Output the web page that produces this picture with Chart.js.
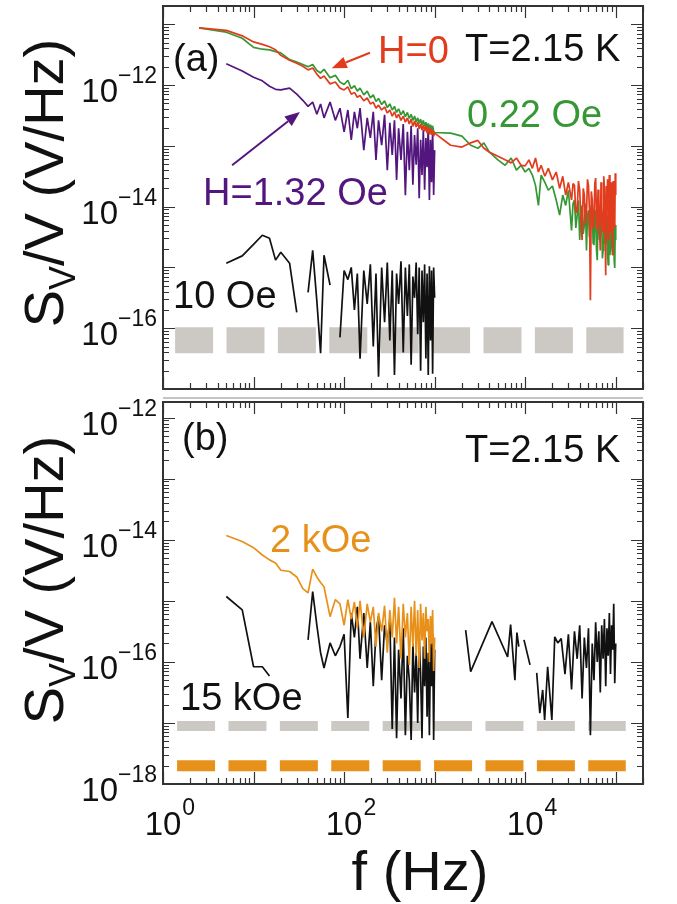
<!DOCTYPE html>
<html>
<head>
<meta charset="utf-8">
<script src="https://cdn.jsdelivr.net/npm/chart.js@4.4.1/dist/chart.umd.min.js"></script>
<style>
  html, body { margin: 0; padding: 0; background: #fff; }
  #wrap { position: relative; width: 677px; height: 904px; }
  canvas { position: absolute; left: 0; }
  #panelA { top: 0; }
  #panelB { top: 395px; }
</style>
</head>
<body>
<div id="wrap">
  <canvas id="panelA" width="677" height="395"></canvas>
  <canvas id="panelB" width="677" height="509"></canvas>
</div>
<script>
// frequencies (Hz) of the low band, up to 1 kHz
const lowF = [2.5, 5, 7.5, 10, 12.5, 15, 17.5, 20,
  25, 30, 35, 40, 45, 50, 55, 60,
  70, 80, 90, 100, 110, 120, 130, 140, 150,
  165, 180, 195, 210, 225, 240,
  260, 280, 300, 320, 340, 360, 380, 400,
  425, 450, 475, 500, 525, 550, 575, 600, 625, 650, 675, 700,
  725, 750, 775, 800, 825, 850, 875, 900, 925, 950, 975, 1000];
// frequencies (Hz) of the high band, above 1 kHz
const highF = [1500, 2000, 2500, 3000, 3500, 4000,
  5000, 6000, 7000, 8000, 9000, 10000, 11000, 12000, 13000, 14000, 15000,
  16500, 18000, 20000, 22000, 24000, 26000, 28000, 30000,
  32500, 33750, 35000, 36250, 37500, 38750, 40000, 41250, 42500, 43750,
  45000, 46250, 47500, 48750, 50000, 51250, 52500, 53750, 55000, 56250,
  57500, 58750, 60000, 61250, 62500, 63750, 65000, 66250, 67500, 68750,
  70000, 71250, 72500, 73750, 75000, 76250, 77500, 78750, 80000, 81250,
  82500, 83750, 85000, 86250, 87500, 88750, 90000, 91250, 92500, 93750,
  95000, 96250, 97500, 98750, 100000];

// all values below are log10 of S_V/V (1/Hz); null = no data

// panel (a) H=0
const h0Low = [-11.06, -11.10, -11.19, -11.29, -11.33, -11.37, -11.42, -11.51,
  -11.59, -11.64, -11.69, -11.75, -11.72, -11.82, -11.89, -11.85,
  -11.98, -11.95, -12.05, -12.08, -12.03, -12.15, -12.12, -12.20, -12.17,
  -12.26, -12.21, -12.31, -12.28, -12.38, -12.33,
  -12.41, -12.36, -12.46, -12.41, -12.51, -12.44, -12.54, -12.48,
  -12.58, -12.51, -12.61, -12.54, -12.64, -12.56, -12.68, -12.59, -12.69, -12.61, -12.72, -12.64,
  -12.74, -12.66, -12.76, -12.67, -12.79, -12.69, -12.81, -12.71, -12.82, -12.74, -12.84, -12.79];
const h0High = [-12.99, -13.02, -12.95, -12.91, -13.04, -13.10,
  -13.17, -13.23, -13.28, -13.20, -13.32, -13.33, -13.23, -13.37, -13.20, -13.43, -13.32,
  -13.50, -13.37, -13.56, -13.43, -13.70, -13.50, -13.81, -13.60,
  -13.89, -13.62, -13.65, -14.10, -14.06, -13.58, -13.73, -14.20, -14.55, -13.70,
  -13.81, -14.30, -14.14, -13.55, -13.65, -14.05, -15.54, -13.75, -13.89, -14.35,
  -14.26, -13.62, -13.53, -14.15, -14.39, -13.72, -13.81, -14.40, -14.72, -13.60,
  -13.98, -14.25, -14.42, -13.50, -13.70, -14.30, -15.13, -13.66, -14.06, -13.55,
  -14.55, -13.85, -13.48, -14.28, -14.42, -13.60, -13.89, -14.50, -14.80, -13.58,
  -13.65, -14.20, -14.35, -13.45, -13.81];

// panel (a) 0.22 Oe
const oe022Low = [-11.06, -11.13, -11.23, -11.38, -11.41, -11.42, -11.45, -11.47,
  -11.58, -11.62, -11.66, -11.70, -11.66, -11.76, -11.80, -11.74,
  -11.88, -11.84, -11.95, -11.99, -11.92, -12.06, -12.01, -12.10, -12.05,
  -12.16, -12.10, -12.21, -12.16, -12.27, -12.22,
  -12.32, -12.26, -12.37, -12.31, -12.41, -12.35, -12.45, -12.39,
  -12.49, -12.42, -12.52, -12.45, -12.55, -12.48, -12.58, -12.51, -12.61, -12.54, -12.63, -12.56,
  -12.66, -12.58, -12.68, -12.61, -12.70, -12.63, -12.72, -12.65, -12.74, -12.67, -12.76, -12.78];
const oe022High = [-12.79, -12.84, -12.99, -13.04, -12.95, -13.10,
  -13.23, -13.32, -13.20, -13.40, -13.32, -13.43, -13.37, -13.48, -13.65, -13.98, -13.48,
  -13.60, -13.73, -13.66, -13.89, -14.14, -13.81, -13.98, -13.73,
  -14.39, -13.95, -13.89, -14.35, -14.14, -13.90, -14.55, -14.10, -13.98, -14.45,
  -14.30, -13.95, -14.72, -14.15, -14.06, -14.50, -14.39, -14.00, -13.98, -14.60,
  -14.63, -14.05, -14.14, -14.70, -14.88, -14.10, -14.06, -14.55, -14.47, -14.08,
  -14.26, -14.85, -14.72, -14.15, -13.98, -14.60, -14.55, -14.20, -14.14, -14.75,
  -14.96, -14.18, -14.30, -14.80, -14.63, -14.10, -14.14, -14.70, -14.80, -14.25,
  -14.39, -14.90, -15.01, -14.30, -14.55];

// panel (a) H=1.32 Oe
const oe132Low = [null, -11.65, -11.77, -11.87, -11.93, -12.02, -12.07, -12.08,
  -12.05, -12.15, -12.25, -12.35, -12.28, -12.48, -12.31, -12.54,
  -12.28, -12.58, -12.38, -12.77, -12.41, -12.90, -12.44, -12.71, -12.38,
  -13.07, -12.54, -12.87, -12.44, -13.23, -12.58,
  -12.99, -12.49, -13.40, -12.62, -13.15, -12.58, -13.56, -12.71,
  -13.23, -12.64, -13.81, -12.77, -13.40, -12.67, -13.64, -12.82, -13.31, -12.71, -13.86, -12.90,
  -13.48, -12.74, -13.72, -12.87, -13.35, -12.66, -13.89, -12.90, -13.60, -12.74, -13.81, -13.07];

// panel (a) 10 Oe
const oe10Low = [null, -14.93, -14.81, -14.62, -14.47, -14.52, -14.88, -14.75,
  -14.93, -15.74, null, -15.41, -14.72, -15.55, -16.41, -14.80,
  -15.29, null, -16.15, -15.05, -15.20, -15.00, -15.70, -15.10, -16.50,
  -15.05, -15.60, -14.95, -16.30, -15.10, -16.80,
  -15.00, -15.90, -14.92, -16.20, -15.05, -16.77, -15.10, -15.60,
  -14.90, -16.40, -15.00, -15.80, -14.95, -16.60, -15.15, -15.50, -14.92, -16.10, -15.00, -16.70,
  -15.05, -15.90, -14.95, -16.50, -15.10, -16.77, -14.98, -16.20, -15.05, -16.75, -15.00, -15.50];

// panel (b) 2 kOe
const koe2Low = [null, -13.93, -14.03, -14.13, -14.25, -14.33, -14.38, -14.50,
  -14.52, -14.61, -14.80, -14.87, -14.48, -14.61, -14.70, -14.77,
  -15.26, -14.98, -15.05, -15.40, -14.98, -15.30, -15.02, -15.45, -15.00,
  -15.60, -15.05, -15.35, -15.10, -15.75, -15.20,
  -15.50, -15.08, -15.85, -15.15, -15.60, -14.95, -15.70, -15.10,
  -15.95, -15.05, -15.60, -15.20, -16.05, -15.10, -15.75, -15.00, -15.90, -15.15, -16.10, -15.05,
  -15.65, -15.20, -15.95, -15.10, -15.50, -15.30, -16.00, -15.25, -15.70, -15.15, -16.15, -15.60];

// panel (b) 15 kOe
const koe15Low = [null, -14.93, -15.15, -16.08, -16.08, -16.23, null, null,
  null, null, null, -15.64, -14.85, -15.40, -15.85, -16.10,
  -15.69, -15.90, -15.75, -15.55, -16.92, -15.20, -15.60, -15.10, -15.95,
  -15.20, -16.10, -15.35, -16.40, -15.50, -15.25,
  -16.30, -15.40, -15.70, -15.30, -17.10, -15.60, -17.25, -15.80,
  -16.60, -15.45, -17.20, -15.90, -16.30, -17.28, -15.70, -16.50, -15.85, -17.00, -15.60, -16.20,
  -17.25, -15.75, -16.40, -15.60, -16.90, -15.85, -17.20, -15.70, -16.40, -15.55, -17.28, -15.80];
const koe15HighF = [1600, 2200, 2500, 4300, 6400, 6900, 7700, 8100, 8500, 9200, 9700, 11300, 12300,
  13400, 14500, 15600, 16400, 17700, 19700, 21200, 22900,
  25000, 27500, 30000, 32500, 35000, 37500, 40000, 42500, 45000, 47500, 50000,
  52500, 55000, 57500, 60000, 62500, 65000, 67500, 70000, 72500, 75000,
  77500, 80000, 82500, 85000, 87500, 90000, 92500, 95000, 97500, 100000];
const koe15High = [null, -15.48, -16.16, -15.34, -15.92, -15.39, -16.30, -15.52, -15.75, null, -15.64, -16.05, null,
  -16.18, -16.84, -16.46, -16.95, -16.08, -16.95, -15.59, -15.69,
  -15.62, -16.20, -15.55, -16.45, -15.50, -15.95, -15.40, -16.60, -15.60, -16.10, -15.45,
  -17.20, -15.70, -16.30, -15.35, -16.00, -15.50, -16.50, -15.40, -15.95, -15.30,
  -16.40, -15.45, -15.90, -15.20, -16.20, -15.40, -15.80, -15.05, -16.35, -15.70];

// background (noise floor) levels, drawn as thick dashed bars
const floorAF = [1.36, 122000];
const floorA = [-16.2, -16.2];
const floorBF = [1.43, 129000];
const floorB15 = [-17.05, -17.05];
const floorB2 = [-17.7, -17.7];

const FAMILY = '"Liberation Sans", Arial, Helvetica, sans-serif';
const RED = '#e23c1e';
const GREEN = '#369834';
const PURPLE = '#52167e';
const ORANGE = '#e8911a';
const GRAY = '#ccc9c5';
const INK = '#111';

function pts(fs, exps) {
  return fs.map((f, i) => ({ x: f, y: exps[i] == null ? null : Math.pow(10, exps[i]) }));
}

function trace(data, color, order) {
  return { data, borderColor: color, borderWidth: 1.7, order, spanGaps: false };
}

function bar(data, color, width) {
  return { data, borderColor: color, borderWidth: width, borderDash: [38, 13.4], borderCapStyle: 'butt', order: 9 };
}

function logTicks(min, max) {
  const out = [];
  for (let e = Math.floor(Math.log10(min)); e <= Math.ceil(Math.log10(max)); e++) {
    for (let m = 1; m <= 9; m++) {
      const v = m * Math.pow(10, e);
      if (v >= min * 0.999 && v <= max * 1.001) out.push({ v, major: m === 1 });
    }
  }
  return out;
}

function expStr(e) {
  return e < 0 ? '\u2212' + (-e) : String(e);
}

/* ---------- frame, ticks, labels, notes ---------- */
function decor(cfg) {
  return {
    id: 'decor',
    afterDatasetsDraw(chart) {
      const { ctx, chartArea: a, scales: { x, y } } = chart;
      ctx.save();

      // inward ticks on all four sides
      ctx.strokeStyle = '#333';
      ctx.lineWidth = 1.2;
      ctx.beginPath();
      logTicks(x.min, x.max).forEach(t => {
        const px = Math.round(x.getPixelForValue(t.v)) + 0.5;
        const len = t.major ? 12 : 6;
        ctx.moveTo(px, a.bottom); ctx.lineTo(px, a.bottom - len);
        ctx.moveTo(px, a.top); ctx.lineTo(px, a.top + len);
      });
      logTicks(y.min, y.max).forEach(t => {
        const py = Math.round(y.getPixelForValue(t.v)) + 0.5;
        const len = t.major ? 12 : 6;
        ctx.moveTo(a.left, py); ctx.lineTo(a.left + len, py);
        ctx.moveTo(a.right, py); ctx.lineTo(a.right - len, py);
      });
      ctx.stroke();

      ctx.lineWidth = 2;
      ctx.strokeRect(a.left, a.top, a.right - a.left, a.bottom - a.top);

      // y tick labels 10^n
      ctx.fillStyle = INK;
      ctx.textAlign = 'left';
      ctx.textBaseline = 'alphabetic';
      cfg.yExps.forEach(e => {
        const py = y.getPixelForValue(Math.pow(10, e));
        const s = expStr(e);
        ctx.font = '23px ' + FAMILY;
        const w2 = ctx.measureText(s).width;
        ctx.font = '33px ' + FAMILY;
        const w1 = ctx.measureText('10').width;
        const right = a.left - 6;
        ctx.fillText('10', right - w2 - w1, py + 17);
        ctx.font = '23px ' + FAMILY;
        ctx.fillText(s, right - w2, py - 2);
      });

      // x tick labels
      (cfg.xExps || []).forEach(e => {
        const px = x.getPixelForValue(Math.pow(10, e));
        ctx.font = '33px ' + FAMILY;
        const w1 = ctx.measureText('10').width;
        ctx.fillText('10', px - w1 / 2, a.bottom + 51);
        ctx.font = '23px ' + FAMILY;
        ctx.fillText(expStr(e), px + w1 / 2 + 1, a.bottom + 31);
      });

      // y axis title S_V/V (V/Hz), rotated
      ctx.save();
      ctx.translate(63, cfg.titleY);
      ctx.rotate(-Math.PI / 2);
      ctx.font = '56px ' + FAMILY;
      const wS = ctx.measureText('S').width;
      const wRest = ctx.measureText('/V (V/Hz)').width;
      ctx.font = '36px ' + FAMILY;
      const wSub = ctx.measureText('V').width;
      let tx = -(wS + wSub + wRest) / 2;
      ctx.font = '56px ' + FAMILY;
      ctx.fillText('S', tx, 0);
      tx += wS;
      ctx.font = '36px ' + FAMILY;
      ctx.fillText('V', tx, 12);
      tx += wSub;
      ctx.font = '56px ' + FAMILY;
      ctx.fillText('/V (V/Hz)', tx, 0);
      ctx.restore();

      // x axis title
      if (cfg.xTitle) {
        ctx.font = '56px ' + FAMILY;
        ctx.textAlign = 'center';
        ctx.fillText(cfg.xTitle.text, cfg.xTitle.x, cfg.xTitle.y);
        ctx.textAlign = 'left';
      }

      // panel notes
      ctx.font = '38px ' + FAMILY;
      cfg.notes.forEach(n => {
        ctx.fillStyle = n.color;
        ctx.fillText(n.text, n.x, n.y);
      });

      // arrows, given in data coordinates
      (cfg.arrows || []).forEach(ar => {
        const x0 = x.getPixelForValue(ar.from[0]), y0 = y.getPixelForValue(ar.from[1]);
        const x1 = x.getPixelForValue(ar.to[0]), y1 = y.getPixelForValue(ar.to[1]);
        const ang = Math.atan2(y1 - y0, x1 - x0);
        const hl = 15, hw = 6;
        const bx = x1 - hl * Math.cos(ang), by = y1 - hl * Math.sin(ang);
        ctx.strokeStyle = ar.color;
        ctx.fillStyle = ar.color;
        ctx.lineWidth = 2;
        ctx.beginPath();
        ctx.moveTo(x0, y0);
        ctx.lineTo(bx, by);
        ctx.stroke();
        ctx.beginPath();
        ctx.moveTo(x1, y1);
        ctx.lineTo(bx + hw * Math.sin(ang), by - hw * Math.cos(ang));
        ctx.lineTo(bx - hw * Math.sin(ang), by + hw * Math.cos(ang));
        ctx.closePath();
        ctx.fill();
      });

      if (cfg.sepLine) {
        ctx.strokeStyle = '#c4c4c4';
        ctx.lineWidth = 2;
        ctx.beginPath();
        ctx.moveTo(a.left, cfg.sepLine);
        ctx.lineTo(a.right, cfg.sepLine);
        ctx.stroke();
      }
      ctx.restore();
    }
  };
}

function baseOptions(pad, yMin, yMax) {
  return {
    responsive: false,
    animation: false,
    devicePixelRatio: 1,
    layout: { padding: pad },
    plugins: { legend: { display: false }, tooltip: { enabled: false } },
    elements: {
      point: { radius: 0, hoverRadius: 0 },
      line: { tension: 0, borderJoinStyle: 'bevel' }
    },
    scales: {
      x: { type: 'logarithmic', min: 1, max: 2e5, display: false, bounds: 'data' },
      y: { type: 'logarithmic', min: yMin, max: yMax, display: false, bounds: 'data' }
    }
  };
}

/* ---------- PANEL (a) ---------- */
new Chart(document.getElementById('panelA'), {
  type: 'line',
  data: {
    datasets: [
      trace(pts(lowF.concat(highF), h0Low.concat(h0High)), RED, 1),
      trace(pts(lowF.concat(highF), oe022Low.concat(oe022High)), GREEN, 2),
      trace(pts(lowF, oe132Low), PURPLE, 3),
      trace(pts(lowF, oe10Low), INK, 4),
      bar(pts(floorAF, floorA), GRAY, 26)
    ]
  },
  options: baseOptions({ left: 163, right: 34, top: 6, bottom: 6 }, 1e-17, 2e-11),
  plugins: [decor({
    yExps: [-12, -14, -16],
    titleY: 183,
    notes: [
      { text: '(a)', x: 173, y: 71, color: INK },
      { text: 'H=0', x: 378, y: 63, color: RED },
      { text: 'T=2.15 K', x: 465, y: 61, color: INK },
      { text: '0.22 Oe', x: 467, y: 127, color: GREEN },
      { text: 'H=1.32 Oe', x: 203, y: 205, color: PURPLE },
      { text: '10 Oe', x: 173, y: 308, color: INK }
    ],
    arrows: [
      { from: [193, 3.4e-12], to: [73, 1.9e-12], color: RED },
      { from: [5.8, 4.8e-14], to: [32.5, 3.6e-13], color: PURPLE }
    ]
  })]
});

/* ---------- PANEL (b) ---------- */
new Chart(document.getElementById('panelB'), {
  type: 'line',
  data: {
    datasets: [
      trace(pts(lowF, koe2Low), ORANGE, 1),
      trace(pts(lowF.concat(koe15HighF), koe15Low.concat(koe15High)), INK, 2),
      bar(pts(floorBF, floorB15), GRAY, 10),
      bar(pts(floorBF, floorB2), ORANGE, 11)
    ]
  },
  options: baseOptions({ left: 163, right: 34, top: 7, bottom: 120 }, 1e-18, 1.8e-12),
  plugins: [decor({
    yExps: [-12, -14, -16, -18],
    xExps: [0, 2, 4],
    titleY: 185,
    xTitle: { text: 'f (Hz)', x: 420, y: 495 },
    sepLine: 3,
    notes: [
      { text: '(b)', x: 182, y: 55, color: INK },
      { text: 'T=2.15 K', x: 465, y: 67, color: INK },
      { text: '2 kOe', x: 270, y: 157, color: ORANGE },
      { text: '15 kOe', x: 180, y: 315, color: INK }
    ]
  })]
});
</script>
</body>
</html>
